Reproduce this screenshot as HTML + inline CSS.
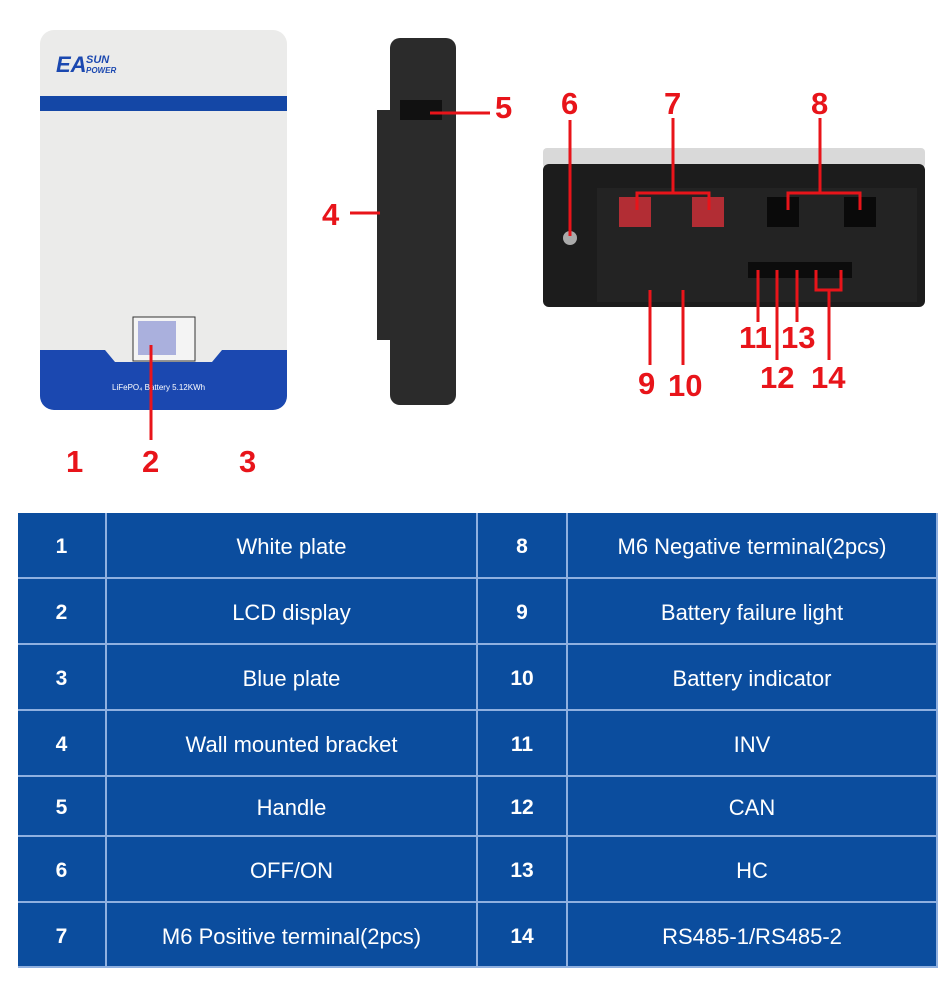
<!DOCTYPE html>
<html><head><meta charset="utf-8"><style>
body{margin:0;width:950px;height:1000px;background:#fff;position:relative;overflow:hidden;font-family:"Liberation Sans",Arial,sans-serif}
.t{position:absolute;left:18px;top:513px;width:920px;height:455px;background:#0b4d9e}
.c{position:absolute;color:#fff;font-size:22px;display:flex;align-items:center;justify-content:center;border-right:2px solid #8fb0e0;border-bottom:2px solid #8fb0e0;box-sizing:border-box;padding-top:4px}
.n{font-weight:bold;font-size:21px}
.r{position:absolute;color:#e8141a;font-weight:bold;font-size:31px}
</style></head><body>
<svg width="950" height="500" style="position:absolute;left:0;top:0">
<rect x="40" y="30" width="247" height="380" rx="14" fill="#ebebea"/>
<rect x="40" y="96" width="247" height="15" fill="#1447a6"/>
<path d="M40 350 H105 L115 362 H212 L222 350 H287 V396 a14 14 0 0 1 -14 14 H54 a14 14 0 0 1 -14 -14 Z" fill="#1b48b0"/>
<rect x="133" y="317" width="62" height="44" fill="#f4f4f4" stroke="#333"/>
<rect x="138" y="321" width="38" height="34" fill="#aab0dd"/>
<text x="112" y="390" font-size="8" fill="#fff" font-family="Liberation Sans">LiFePO₄ Battery 5.12KWh</text>
<text x="56" y="72" font-size="22" font-weight="bold" font-style="italic" fill="#1b48b0" font-family="Liberation Sans">EA</text>
<text x="86" y="63" font-size="11" font-weight="bold" font-style="italic" fill="#1b48b0" font-family="Liberation Sans">SUN</text>
<text x="86" y="73" font-size="8" font-weight="bold" font-style="italic" fill="#1b48b0" font-family="Liberation Sans">POWER</text>
<rect x="377" y="110" width="18" height="230" fill="#2a2a2a"/>
<rect x="390" y="38" width="66" height="367" rx="10" fill="#2b2b2b"/>
<rect x="400" y="100" width="42" height="20" fill="#111"/>
<rect x="543" y="148" width="382" height="20" rx="4" fill="#d9d9d9"/>
<rect x="543" y="164" width="382" height="143" rx="6" fill="#1c1c1c"/>
<rect x="597" y="188" width="320" height="114" fill="#232323"/>
<rect x="619" y="197" width="32" height="30" fill="#b22d34"/>
<rect x="692" y="197" width="32" height="30" fill="#b22d34"/>
<rect x="767" y="197" width="32" height="30" fill="#0a0a0a"/>
<rect x="844" y="197" width="32" height="30" fill="#0a0a0a"/>
<circle cx="570" cy="238" r="7" fill="#aaa"/>
<rect x="748" y="262" width="104" height="16" fill="#0c0c0c"/>
<g stroke="#e8141a" stroke-width="3" fill="none">
<polyline points="151,345 151,440"/>
<polyline points="380,213 350,213"/>
<polyline points="430,113 490,113"/>
<polyline points="570,120 570,236"/>
<polyline points="637,210 637,193 709,193 709,210"/>
<polyline points="673,118 673,193"/>
<polyline points="788,210 788,193 860,193 860,210"/>
<polyline points="820,118 820,193"/>
<polyline points="650,290 650,365"/>
<polyline points="683,290 683,365"/>
<polyline points="758,270 758,322"/>
<polyline points="777,270 777,360"/>
<polyline points="797,270 797,322"/>
<polyline points="816,270 816,290 841,290 841,270"/>
<polyline points="829,290 829,360"/>
</g>
</svg>
<div class="r" style="left:66px;top:444px">1</div>
<div class="r" style="left:142px;top:444px">2</div>
<div class="r" style="left:239px;top:444px">3</div>
<div class="r" style="left:322px;top:197px">4</div>
<div class="r" style="left:495px;top:90px">5</div>
<div class="r" style="left:561px;top:86px">6</div>
<div class="r" style="left:664px;top:86px">7</div>
<div class="r" style="left:811px;top:86px">8</div>
<div class="r" style="left:638px;top:366px">9</div>
<div class="r" style="left:668px;top:368px">10</div>
<div class="r" style="left:739px;top:320px">11</div>
<div class="r" style="left:760px;top:360px">12</div>
<div class="r" style="left:781px;top:320px">13</div>
<div class="r" style="left:811px;top:360px">14</div>
<div class="t" id="t"></div>
<script>
var rows=[[513,579],[579,645],[645,711],[711,777],[777,837],[837,903],[903,968]];
var L=["White plate","LCD display","Blue plate","Wall mounted bracket","Handle","OFF/ON","M6 Positive terminal(2pcs)"];
var R=["M6 Negative terminal(2pcs)","Battery failure light","Battery indicator","INV","CAN","HC","RS485-1/RS485-2"];
var cols=[[0,89],[89,460],[460,550],[550,920]];
var h="";
rows.forEach(function(r,i){
 var y=r[0]-513,hh=r[1]-r[0];
 var tx=[""+(i+1),L[i],""+(i+8),R[i]];
 cols.forEach(function(c,j){
  h+='<div class="c'+(j%2==0?' n':'')+'" style="left:'+c[0]+'px;top:'+y+'px;width:'+(c[1]-c[0])+'px;height:'+hh+'px">'+tx[j]+'</div>';
 });
});
document.getElementById("t").innerHTML=h;
</script>
</body></html>
